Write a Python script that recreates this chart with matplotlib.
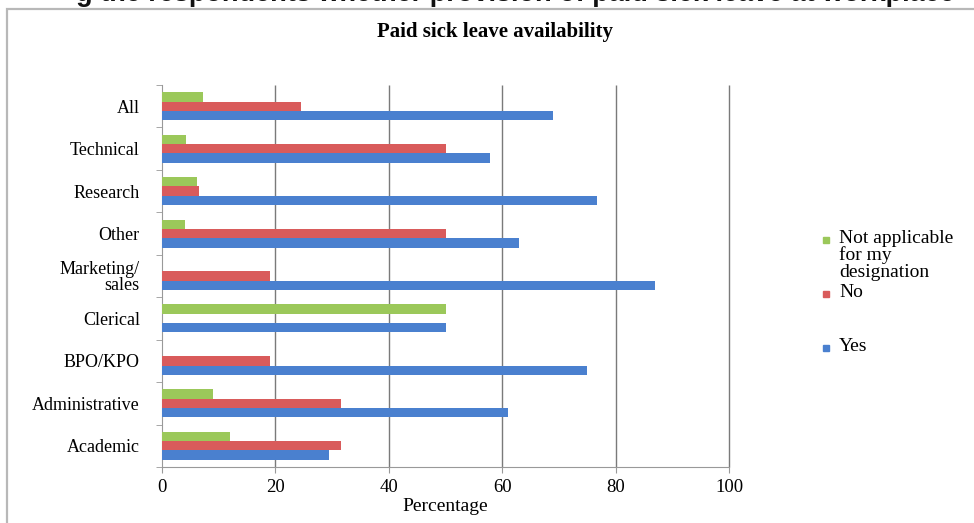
import numpy as np
import matplotlib
matplotlib.use('Agg')
import matplotlib.pyplot as plt
from matplotlib.patches import Rectangle

CATEGORIES = ['Academic', 'Administrative', 'BPO/KPO', 'Clerical', 'Marketing/\nsales',
              'Other', 'Research', 'Technical', 'All']
YES = [29.5, 61, 75, 50, 87, 63, 76.7, 57.8, 69]
NO = [31.5, 31.5, 19, 0, 19, 50, 6.5, 50, 24.5]
NOT_APPLICABLE = [12, 9, 0, 50, 0, 4, 6.2, 4.2, 7.2]
SERIES_LABELS = ['Not applicable\nfor my\ndesignation', 'No', 'Yes']
COLORS = ['#9BC85A', '#D95B5B', '#4A80CF']
X_TICKS = [0, 20, 40, 60, 80, 100]

SERIF = 'Liberation Serif'


def main():
    fig = plt.figure(figsize=(9.74, 5.23), dpi=100)
    W, H = 974, 523

    # cut-off caption line at the very top
    fig.text(515 / W, 1 - 1 / H, 'g the respondents whether provision of paid sick leave at workplace',
             ha='center', va='baseline', fontsize=19.5, fontweight='bold',
             family='Liberation Sans', color='#111111')

    # chart frame (runs off the right and bottom edges)
    fig.patches.append(Rectangle((7 / W, -0.05), 1.1, (1 - 9 / H) + 0.05, transform=fig.transFigure,
                                 fill=False, edgecolor='#B8B8B8', lw=1.6))

    ax = fig.add_axes([162 / W, 1 - 467 / H, 567 / W, 382 / H])
    y = np.arange(len(CATEGORIES))
    h = 0.22
    ax.barh(y - h, YES, height=h, color=COLORS[2], zorder=3)
    ax.barh(y, NO, height=h, color=COLORS[1], zorder=3)
    ax.barh(y + h, NOT_APPLICABLE, height=h, color=COLORS[0], zorder=3)

    ax.set_xlim(0, 100)
    ax.set_ylim(-0.5, len(CATEGORIES) - 0.5)
    ax.set_xticks(X_TICKS)
    ax.set_xticklabels([str(t) for t in X_TICKS], family=SERIF, fontsize=13.5)
    ax.set_yticks(y)
    ax.set_yticklabels(CATEGORIES, family=SERIF, fontsize=13, linespacing=0.9)
    ax.set_yticks(np.arange(-0.5, len(CATEGORIES), 1), minor=True)
    ax.tick_params(axis='y', which='major', length=0, pad=16)
    ax.tick_params(axis='y', which='minor', length=4, color='#999999')
    ax.tick_params(axis='x', length=4, color='#999999', pad=5)
    # vertical gridlines, the one at 100 included
    ax.vlines(X_TICKS[1:], -0.5, len(CATEGORIES) - 0.5, color='#7A7A7A', lw=1.0,
              zorder=1, clip_on=False)
    for s in ['top', 'right']:
        ax.spines[s].set_visible(False)
    ax.spines['left'].set_color('#999999')
    ax.spines['bottom'].set_color('#999999')
    ax.set_xlabel('Percentage', family=SERIF, fontsize=14, labelpad=1)

    fig.text(495 / W, 1 - 32 / H, 'Paid sick leave availability', ha='center', va='center',
             family=SERIF, fontweight='bold', fontsize=15)

    # legend drawn to match the spreadsheet layout
    legend_y = [240, 294, 348]
    for label, color, ly in zip(SERIES_LABELS, COLORS, legend_y):
        fig.patches.append(Rectangle((823 / W, 1 - (ly + 3) / H), 6 / W, 6 / H,
                                     transform=fig.transFigure, color=color))
        fig.text(839 / W, 1 - (ly - 10) / H, label, ha='left', va='top', family=SERIF,
                 fontsize=14, linespacing=0.97)

    fig.savefig('out.png', dpi=100)


if __name__ == '__main__':
    main()
